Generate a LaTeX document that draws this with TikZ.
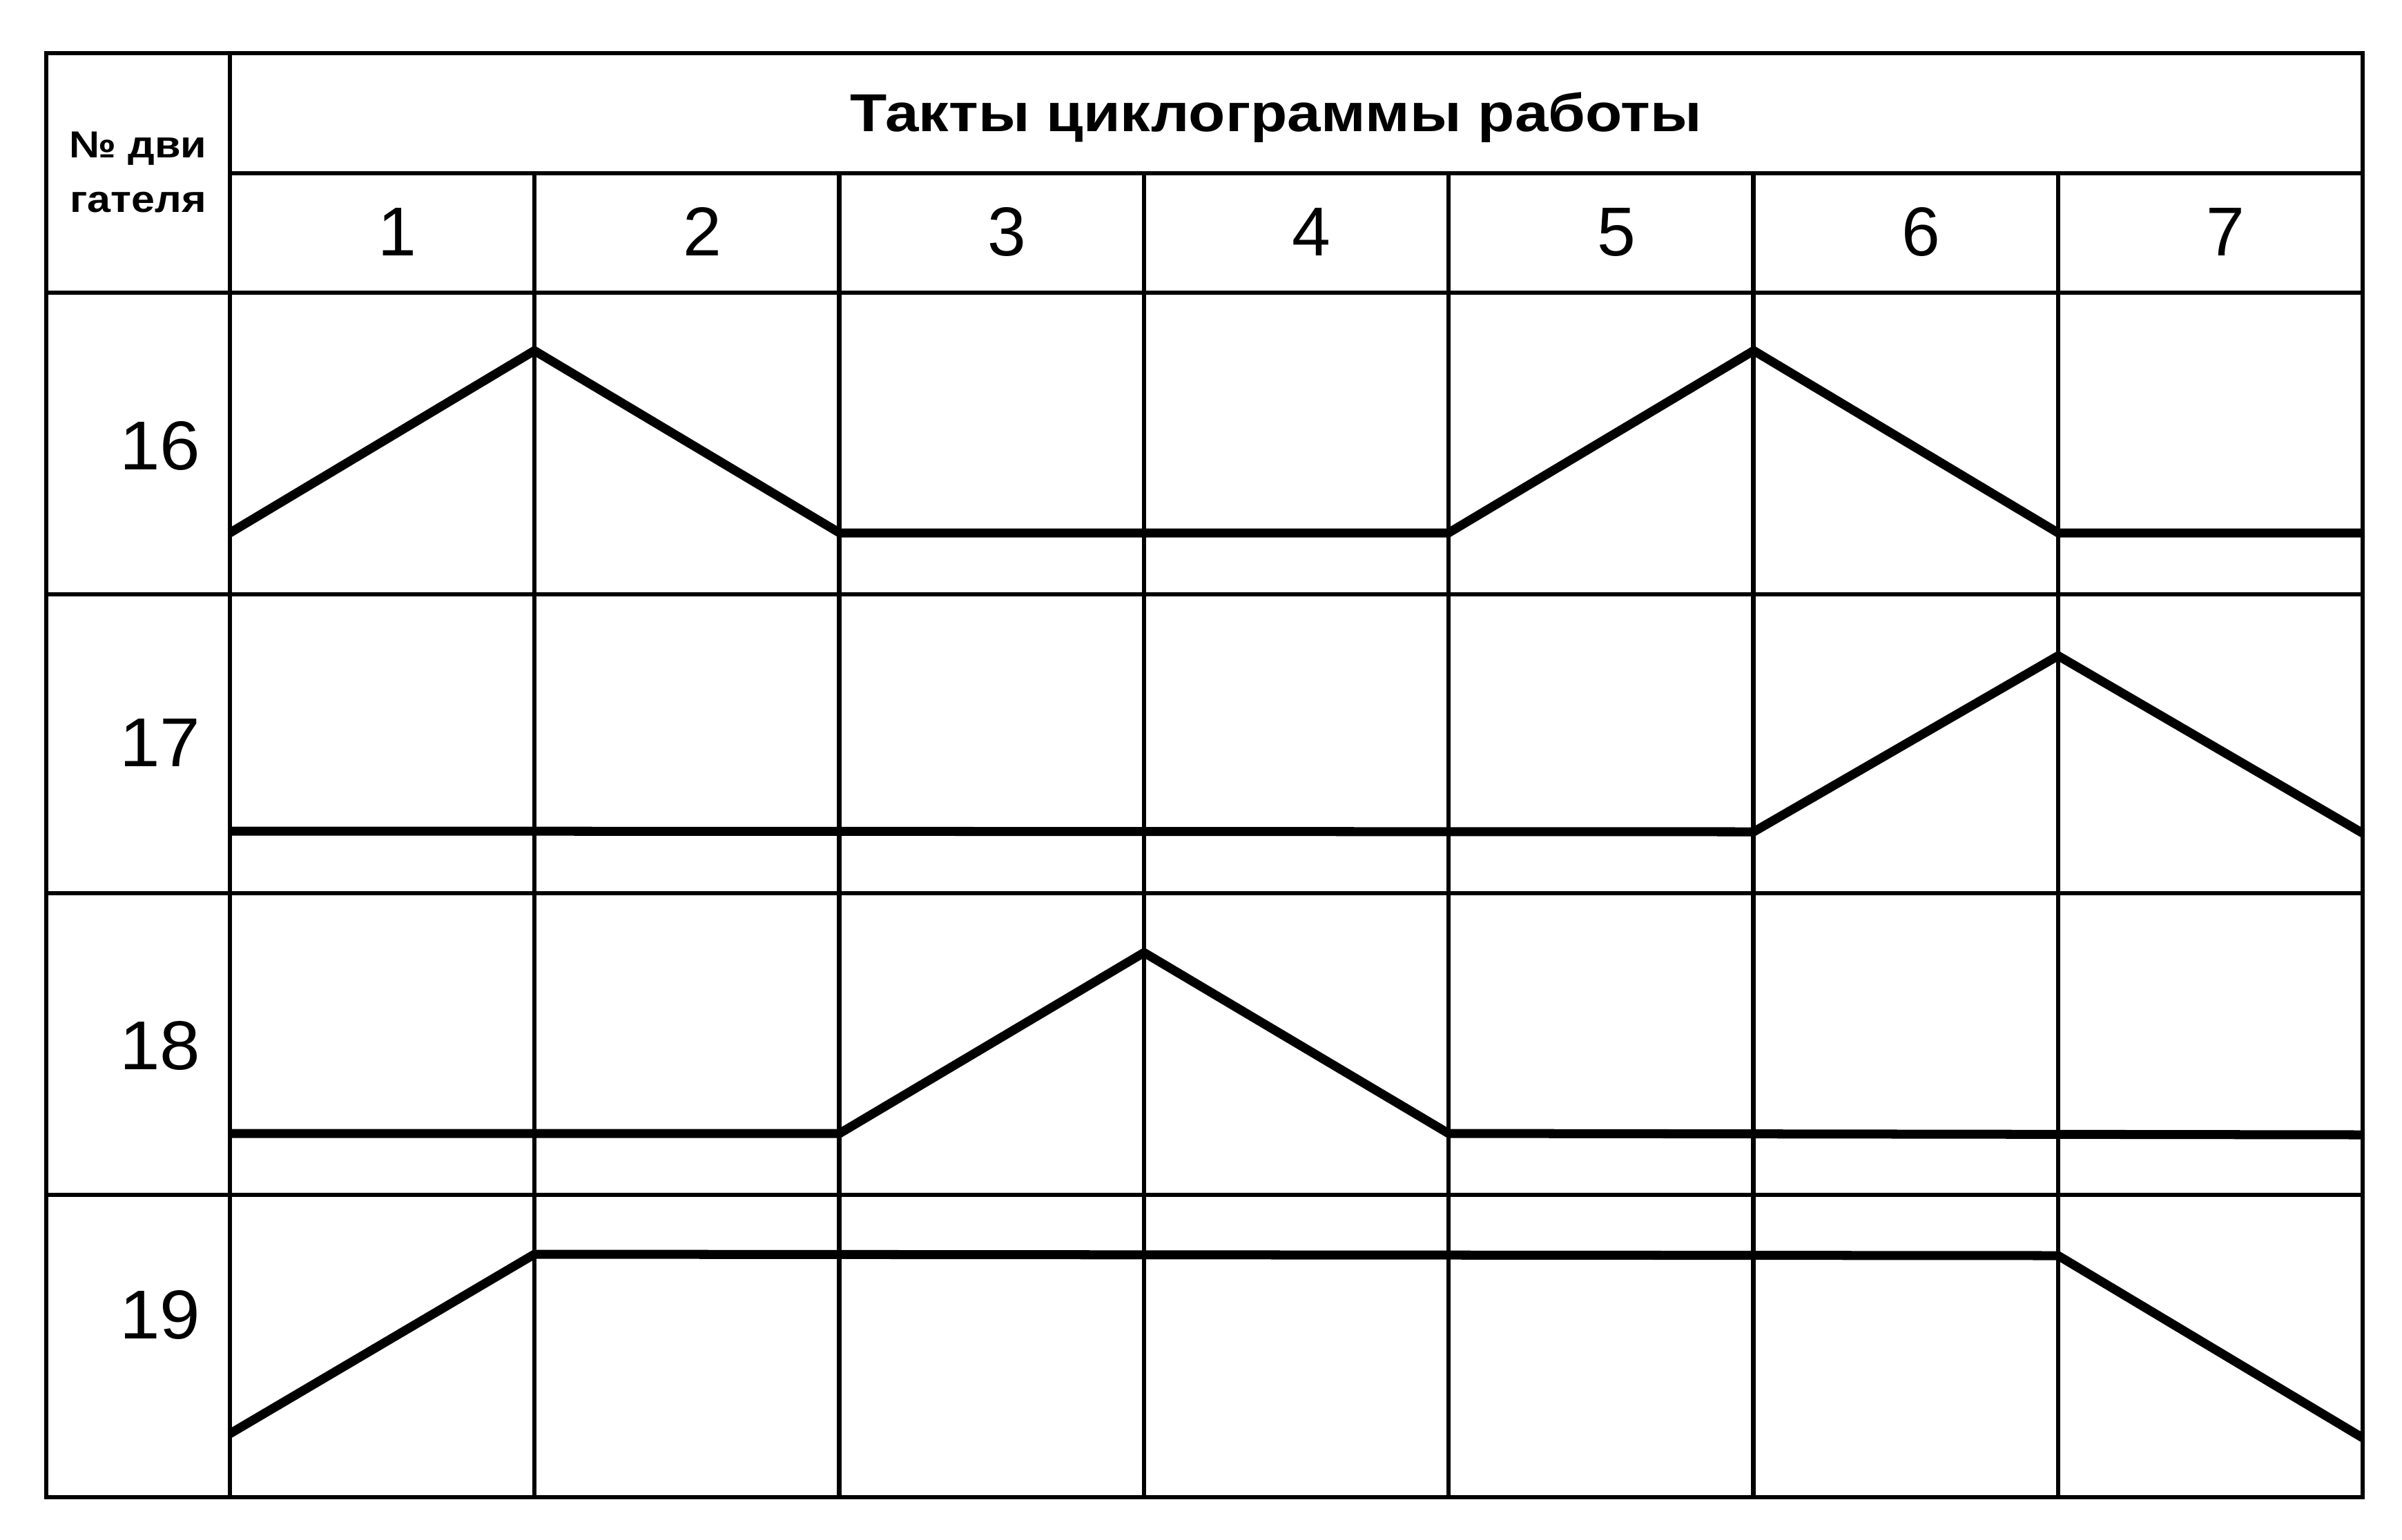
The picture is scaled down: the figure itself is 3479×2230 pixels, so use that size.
\documentclass[tikz,border=0pt]{standalone}
\usepackage{fontspec}
\usepackage{graphicx}
\setmainfont{Liberation Sans}
\begin{document}
\begin{tikzpicture}[x=0.01cm,y=-0.01cm,
  gridline/.style={line width=1.8pt},
  cyc/.style={line width=3.7pt, line join=miter},
  ttl/.style={font=\bfseries\fontsize{22}{26}\selectfont, inner sep=0pt, anchor=base},
  hdr/.style={font=\bfseries\fontsize{15.5}{18}\selectfont, inner sep=0pt, anchor=base},
  num/.style={font=\fontsize{28.5}{32}\selectfont, inner sep=0pt, anchor=base},
  rowlab/.style={font=\fontsize{28.5}{32}\selectfont, inner sep=0pt, anchor=base east}]
\useasboundingbox (0,0) rectangle (3479,2230);
\fill[white] (0,0) rectangle (3479,2230);
% grid
\draw[gridline] (67,77) rectangle (3422,2169);
\draw[gridline] (333,77) -- (333,2169);
\draw[gridline] (333,251) -- (3422,251);
\draw[gridline] (67,424) -- (3422,424);
\foreach \y in {861,1294,1731} \draw[gridline] (67,\y) -- (3422,\y);
\foreach \k in {1,...,6} \draw[gridline] ({333+441.3*\k},251) -- ({333+441.3*\k},2169);
% cyclogram lines
\draw[cyc] (333,772) -- (774,508) -- (1216,772) -- (2098,772) -- (2540,508) -- (2981,772) -- (3422,772);
\draw[cyc] (333,1204) -- (2540,1205) -- (2981,950) -- (3422,1207);
\draw[cyc] (333,1642) -- (1216,1642) -- (1657,1380) -- (2098,1642) -- (3422,1644);
\draw[cyc] (333,2077) -- (774,1817) -- (2981,1819) -- (3422,2083);
% texts
\node[ttl] (title) at (1848,190) {\scalebox{1.127}[1]{Такты циклограммы работы}};
\node[hdr] (hA) at (200,228) {\scalebox{1.12}[1]{№ дви}};
\node[hdr] (hB) at (200,307) {\scalebox{1.12}[1]{гателя}};
\foreach \k in {1,...,7} \node[num] (col\k) at ({333+441.3*(\k-0.5)+22},370) {\k};
\node[rowlab] (r16) at (291,680) {\scalebox{1.05}[1]{16}};
\node[rowlab] (r17) at (291,1110) {\scalebox{1.05}[1]{17}};
\node[rowlab] (r18) at (291,1549) {\scalebox{1.05}[1]{18}};
\node[rowlab] (r19) at (291,1939) {\scalebox{1.05}[1]{19}};
\end{tikzpicture}
\end{document}
